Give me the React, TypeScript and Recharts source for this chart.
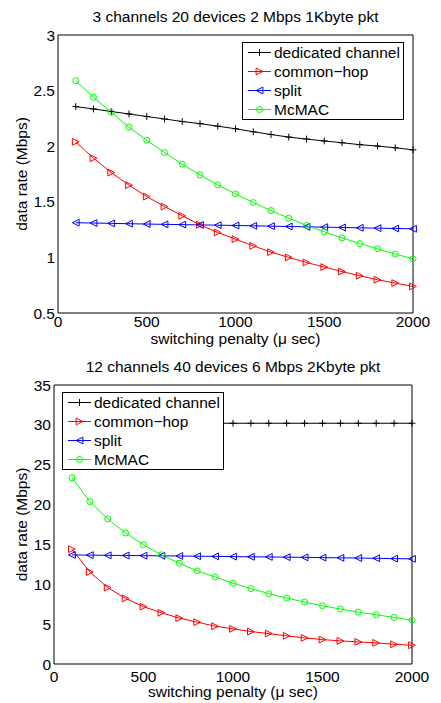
import React from 'react';
import { LineChart, Line, XAxis, YAxis, Legend } from 'recharts';

const FONT = "'Liberation Sans', Arial, Helvetica, sans-serif";
const FS = 15.5;

// switching penalty (microseconds)
const PENALTY_US = [100, 200, 300, 400, 500, 600, 700, 800, 900, 1000, 1100, 1200, 1300, 1400, 1500, 1600, 1700, 1800, 1900, 2000];
const X_TICKS = [0, 500, 1000, 1500, 2000];

// Panel A: 3 channels, 20 devices, 2 Mbps, 1 Kbyte packets
const A_TITLE = '3 channels 20 devices 2 Mbps 1Kbyte pkt';
const A_Y_TICKS = [0.5, 1, 1.5, 2, 2.5, 3];
const A_DEDICATED = [2.356, 2.335, 2.312, 2.29, 2.267, 2.245, 2.222, 2.203, 2.18, 2.157, 2.13, 2.105, 2.082, 2.064, 2.047, 2.031, 2.014, 2.001, 1.986, 1.967];
const A_COMMON_HOP = [2.039, 1.892, 1.763, 1.65, 1.547, 1.457, 1.374, 1.293, 1.224, 1.164, 1.104, 1.047, 1.0, 0.954, 0.913, 0.873, 0.835, 0.799, 0.769, 0.739];
const A_SPLIT = [1.312, 1.309, 1.306, 1.303, 1.3, 1.297, 1.295, 1.292, 1.29, 1.287, 1.284, 1.281, 1.278, 1.275, 1.272, 1.269, 1.266, 1.263, 1.26, 1.257];
const A_MCMAC = [2.589, 2.44, 2.305, 2.171, 2.054, 1.943, 1.838, 1.742, 1.652, 1.571, 1.493, 1.421, 1.353, 1.287, 1.23, 1.176, 1.125, 1.077, 1.03, 0.987];

// Panel B: 12 channels, 40 devices, 6 Mbps, 2 Kbyte packets
const B_TITLE = '12 channels 40 devices 6 Mbps 2Kbyte pkt';
const B_Y_TICKS = [0, 5, 10, 15, 20, 25, 30, 35];
const B_DEDICATED = [30.2, 30.2, 30.2, 30.2, 30.2, 30.2, 30.2, 30.2, 30.2, 30.2, 30.2, 30.2, 30.2, 30.2, 30.2, 30.2, 30.2, 30.2, 30.2, 30.2];
const B_COMMON_HOP = [14.4, 11.55, 9.58, 8.23, 7.19, 6.43, 5.75, 5.25, 4.74, 4.41, 4.07, 3.82, 3.53, 3.28, 3.06, 2.9, 2.77, 2.65, 2.47, 2.35];
const B_SPLIT = [13.68, 13.66, 13.63, 13.61, 13.59, 13.57, 13.55, 13.52, 13.5, 13.47, 13.45, 13.43, 13.4, 13.38, 13.35, 13.32, 13.29, 13.26, 13.22, 13.19];
const B_MCMAC = [23.37, 20.38, 18.2, 16.43, 14.96, 13.7, 12.65, 11.68, 10.92, 10.13, 9.46, 8.83, 8.27, 7.77, 7.31, 6.89, 6.51, 6.18, 5.84, 5.5];

const SERIES_NAMES = ['dedicated channel', 'common\u2212hop', 'split', 'McMAC'];
const SERIES_KEYS = ['dedicated', 'commonHop', 'split', 'mcmac'];
const SERIES_COLORS = ['#000000', '#ff0000', '#0000ff', '#00ff00'];
const SERIES_MARKERS = ['plus', 'right', 'left', 'circle'];

const X_LABEL = 'switching penalty (\u03bc sec)';
const Y_LABEL = 'data rate (Mbps)';

type MarkerKind = 'plus' | 'right' | 'left' | 'circle';

function buildRows(a: number[], b: number[], c: number[], d: number[]) {
  return PENALTY_US.map((x, i) => ({ x, dedicated: a[i], commonHop: b[i], split: c[i], mcmac: d[i] }));
}

function Marker({ kind, cx, cy, color }: { kind: MarkerKind; cx: number; cy: number; color: string }) {
  const s = 3.4;
  if (kind === 'plus') {
    return (
      <g stroke={color} strokeWidth={1}>
        <line x1={cx - s} y1={cy} x2={cx + s} y2={cy} />
        <line x1={cx} y1={cy - s} x2={cx} y2={cy + s} />
      </g>
    );
  }
  if (kind === 'right') {
    return <polygon points={`${cx + s},${cy} ${cx - s},${cy - s} ${cx - s},${cy + s}`} fill="none" stroke={color} strokeWidth={1} />;
  }
  if (kind === 'left') {
    return <polygon points={`${cx - s},${cy} ${cx + s},${cy - s} ${cx + s},${cy + s}`} fill="none" stroke={color} strokeWidth={1} />;
  }
  return <circle cx={cx} cy={cy} r={3} fill="none" stroke={color} strokeWidth={1} />;
}

function LegendBox() {
  return (
    <div
      style={{
        display: 'inline-block',
        border: '1px solid #000',
        background: '#fff',
        padding: '0 3px 0 5px',
        fontFamily: FONT,
        fontSize: FS,
        lineHeight: '19px',
        whiteSpace: 'nowrap',
        color: '#000',
      }}
    >
      {SERIES_NAMES.map((name, i) => (
        <div key={name} style={{ display: 'flex', alignItems: 'center', height: 19 }}>
          <svg width={23} height={19} style={{ display: 'block' }}>
            <line x1={0} y1={9.5} x2={23} y2={9.5} stroke={SERIES_COLORS[i]} strokeWidth={1} />
            <Marker kind={SERIES_MARKERS[i] as MarkerKind} cx={11.5} cy={9.5} color={SERIES_COLORS[i]} />
          </svg>
          <span style={{ marginLeft: 3 }}>{name}</span>
        </div>
      ))}
    </div>
  );
}

function XTitle(props: any) {
  const vb = props.viewBox || {};
  return (
    <text x={vb.x + vb.width / 2} y={vb.y + props.baseline} textAnchor="middle" fontFamily={FONT} fontSize={FS} fill="#000">
      {X_LABEL}
    </text>
  );
}

function YTitle(props: any) {
  const vb = props.viewBox || {};
  const x = vb.x + 27.3;
  const y = vb.y + vb.height / 2;
  return (
    <text x={x} y={y} transform={`rotate(-90 ${x} ${y})`} textAnchor="middle" fontFamily={FONT} fontSize={FS} fill="#000">
      {Y_LABEL}
    </text>
  );
}

type PanelProps = {
  top: number;
  height: number;
  yAxisWidth: number;
  right: number;
  xAxisHeight: number;
  tickGap: number;
  labelBaseline: number;
  title: string;
  titleTop: number;
  domain: [number, number];
  yTicks: number[];
  rows: any[];
  legendPos: { left: number; top: number };
};

function Panel(p: PanelProps) {
  const tickStyle = { fill: '#000', fontSize: FS, fontFamily: FONT };
  return (
    <div style={{ position: 'absolute', left: 0, top: p.top, width: 441, height: p.height }}>
      <div
        style={{
          position: 'absolute',
          left: p.yAxisWidth,
          width: 441 - p.right - p.yAxisWidth,
          top: p.titleTop,
          textAlign: 'center',
          fontFamily: FONT,
          fontSize: FS,
          lineHeight: '18px',
          color: '#000',
          whiteSpace: 'nowrap',
        }}
      >
        {p.title}
      </div>
      <LineChart width={441} height={p.height} data={p.rows} margin={{ top: 35, right: p.right, bottom: 0, left: 0 }}>
        <XAxis
          dataKey="x"
          type="number"
          domain={[0, 2000]}
          ticks={X_TICKS}
          height={p.xAxisHeight}
          tickLine={false}
          tickSize={0}
          tickMargin={p.tickGap}
          axisLine={{ stroke: '#000', strokeWidth: 1 }}
          tick={tickStyle}
          label={<XTitle baseline={p.labelBaseline} />}
        />
        <XAxis xAxisId="b" dataKey="x" type="number" domain={[0, 2000]} ticks={X_TICKS} orientation="bottom" mirror tick={false} tickSize={4} axisLine={false} tickLine={{ stroke: '#000' }} />
        <XAxis xAxisId="t" dataKey="x" type="number" domain={[0, 2000]} ticks={X_TICKS} orientation="top" mirror tick={false} tickSize={4} axisLine={{ stroke: '#000' }} tickLine={{ stroke: '#000' }} />
        <YAxis
          type="number"
          domain={p.domain}
          ticks={p.yTicks}
          width={p.yAxisWidth}
          tickLine={false}
          tickSize={0}
          tickMargin={3}
          axisLine={{ stroke: '#000', strokeWidth: 1 }}
          tick={tickStyle}
          label={<YTitle />}
        />
        <YAxis yAxisId="l" type="number" domain={p.domain} ticks={p.yTicks} orientation="left" mirror tick={false} tickSize={4} axisLine={false} tickLine={{ stroke: '#000' }} />
        <YAxis yAxisId="r" type="number" domain={p.domain} ticks={p.yTicks} orientation="right" mirror tick={false} tickSize={4} axisLine={{ stroke: '#000' }} tickLine={{ stroke: '#000' }} />
        {SERIES_KEYS.map((key, i) => (
          <Line
            key={key}
            dataKey={key}
            name={SERIES_NAMES[i]}
            stroke={SERIES_COLORS[i]}
            strokeWidth={1}
            type="linear"
            isAnimationActive={false}
            dot={(d: any) => (
              <Marker key={`${key}-${d.index}`} kind={SERIES_MARKERS[i] as MarkerKind} cx={d.cx} cy={d.cy} color={SERIES_COLORS[i]} />
            )}
            activeDot={false}
          />
        ))}
        <Legend
          layout="vertical"
          align="center"
          verticalAlign="middle"
          content={() => <LegendBox />}
          wrapperStyle={{ left: p.legendPos.left, top: p.legendPos.top, width: 'auto', height: 'auto' }}
        />
      </LineChart>
    </div>
  );
}

export default function App() {
  return (
    <div style={{ position: 'absolute', left: 0, top: 0, width: 441, height: 703, background: '#fff' }}>
      <Panel
        top={0}
        height={350}
        yAxisWidth={58}
        right={28}
        xAxisHeight={37}
        tickGap={2.5}
        labelBaseline={31}
        title={A_TITLE}
        titleTop={7.6}
        domain={[0.5, 3]}
        yTicks={A_Y_TICKS}
        rows={buildRows(A_DEDICATED, A_COMMON_HOP, A_SPLIT, A_MCMAC)}
        legendPos={{ left: 242, top: 42 }}
      />
      <Panel
        top={350}
        height={353}
        yAxisWidth={54}
        right={29}
        xAxisHeight={39}
        tickGap={6.5}
        labelBaseline={33}
        title={B_TITLE}
        titleTop={7.6}
        domain={[0, 35]}
        yTicks={B_Y_TICKS}
        rows={buildRows(B_DEDICATED, B_COMMON_HOP, B_SPLIT, B_MCMAC)}
        legendPos={{ left: 62, top: 42 }}
      />
    </div>
  );
}
